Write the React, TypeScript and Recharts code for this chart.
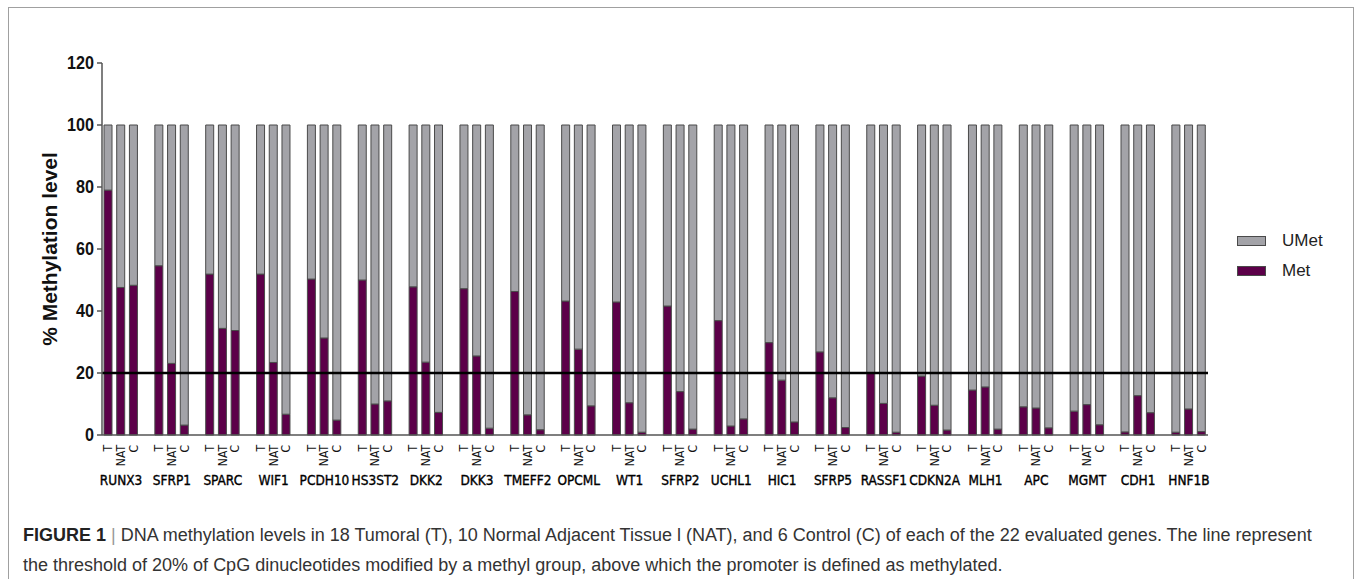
import React from 'react';
import { BarChart, Bar, XAxis, YAxis, ReferenceLine } from 'recharts';

const genes = ['RUNX3', 'SFRP1', 'SPARC', 'WIF1', 'PCDH10', 'HS3ST2', 'DKK2', 'DKK3', 'TMEFF2', 'OPCML', 'WT1', 'SFRP2', 'UCHL1', 'HIC1', 'SFRP5', 'RASSF1', 'CDKN2A', 'MLH1', 'APC', 'MGMT', 'CDH1', 'HNF1B'];
const sampleLabels = ['T', 'NAT', 'C'];
const metTumoral = [79.0, 54.6, 51.9, 51.9, 50.3, 50.0, 47.8, 47.2, 46.3, 43.2, 42.9, 41.6, 36.9, 29.8, 26.8, 19.9, 19.0, 14.5, 9.1, 7.7, 1.0, 0.9];
const metNAT = [47.6, 23.1, 34.4, 23.4, 31.3, 10.0, 23.5, 25.5, 6.5, 27.7, 10.4, 14.0, 2.9, 17.7, 12.0, 10.2, 9.6, 15.5, 8.7, 9.8, 12.7, 8.4];
const metControl = [48.3, 3.2, 33.7, 6.7, 4.8, 11.0, 7.3, 2.2, 1.7, 9.4, 0.9, 1.9, 5.2, 4.2, 2.4, 0.9, 1.6, 1.9, 2.3, 3.3, 7.2, 1.1];
const yTicks = [0, 20, 40, 60, 80, 100, 120];
const threshold = 20;
const legendItems = [{ name: 'UMet', key: 'umet' }, { name: 'Met', key: 'met' }];

const MET_COLOR = '#5c0049';
const UMET_COLOR = '#a3a3a8';
const STROKE = '#4a4a4a';

type Row = { sample: string; gene: string; met: number | null; umet: number | null };
const rows: Row[] = [];
genes.forEach((g, i) => {
  const vals = [metTumoral[i], metNAT[i], metControl[i]];
  vals.forEach((v, j) => {
    rows.push({ sample: sampleLabels[j], gene: j === 1 ? g : '', met: v, umet: +(100 - v).toFixed(2) });
  });
  if (i < genes.length - 1) rows.push({ sample: '', gene: '', met: null, umet: null });
});

const condensed = "'DejaVu Sans Condensed', 'DejaVu Sans', sans-serif";
const arial = "'Liberation Sans', Arial, sans-serif";

const XTick = (props: any) => {
  const { x, y, payload } = props;
  const row = rows[payload.index];
  if (!row || !row.sample) return null;
  const ty = y + 8;
  return (
    <g>
      <text x={x} y={ty} transform={`rotate(-90, ${x}, ${ty})`} textAnchor="end" dominantBaseline="central"
        fontSize={12} fontFamily={condensed} fill="#111">{row.sample}</text>
      {row.gene ? (
        <text x={x} y={y + 48} textAnchor="middle" fontSize={13.5} fontFamily={condensed} fill="#000"
          stroke="#000" strokeWidth={0.35}>{row.gene}</text>
      ) : null}
    </g>
  );
};

const YTick = (props: any) => {
  const { x, y, payload } = props;
  const s = String(payload.value);
  return (
    <text x={x} y={y} textAnchor="end" dominantBaseline="central" fontSize={18} fontWeight="bold"
      fontFamily={arial} fill="#111" textLength={s.length * 9} lengthAdjust="spacingAndGlyphs">{s}</text>
  );
};

export default function App() {
  return (
    <div style={{ position: 'absolute', left: 0, top: 0, width: 1357, height: 579, background: '#fff', overflow: 'hidden' }}>
      <div style={{ position: 'absolute', left: 8, top: 7, width: 1344, height: 620, border: '1.5px solid #a0a0a0' }} />
      <div style={{ position: 'absolute', left: 0, top: 0 }}>
        <BarChart width={1357} height={500} data={rows} margin={{ top: 63, right: 149, left: 42, bottom: 0 }} barSize={8} barGap={0}>
          <XAxis dataKey="sample" interval={0} height={65} tickLine={false} tickSize={0} tick={<XTick />}
            axisLine={{ stroke: '#555', strokeWidth: 1.5 }} />
          <YAxis domain={[0, 120]} ticks={yTicks} width={60} tickSize={5} tickMargin={3} interval={0}
            axisLine={{ stroke: '#555', strokeWidth: 1.5 }} tickLine={{ stroke: '#555', strokeWidth: 1.5 }}
            tick={<YTick />} />
          <Bar dataKey="met" name="Met" stackId="a" fill={MET_COLOR} stroke={STROKE} strokeWidth={1} isAnimationActive={false} />
          <Bar dataKey="umet" name="UMet" stackId="a" fill={UMET_COLOR} stroke={STROKE} strokeWidth={1} isAnimationActive={false} />
          <ReferenceLine y={threshold} stroke="#000" strokeWidth={2.5} />
        </BarChart>
      </div>
      <svg style={{ position: 'absolute', left: 0, top: 0 }} width={100} height={500}>
        <text x={49} y={249} transform="rotate(-90, 49, 249)" textAnchor="middle" dominantBaseline="central"
          fontSize={21} fontWeight="bold" fontFamily={arial} fill="#111">% Methylation level</text>
      </svg>
      <div style={{ position: 'absolute', left: 1237, top: 226, fontFamily: arial, fontSize: 17, color: '#222' }}>
        {legendItems.map((it) => (
          <div key={it.key} style={{ display: 'flex', alignItems: 'center', height: 30 }}>
            <div style={{ width: 27, height: 8, background: it.key === 'met' ? MET_COLOR : UMET_COLOR, border: `1px solid ${STROKE}`, marginRight: 16 }} />
            <span>{it.name}</span>
          </div>
        ))}
      </div>
      <div style={{ position: 'absolute', left: 23, top: 520, width: 1330, fontFamily: arial, fontSize: 18, lineHeight: '30px', color: '#333' }}>
        <div style={{ whiteSpace: 'nowrap' }}><b style={{ color: '#222' }}>FIGURE 1</b> <span style={{ color: '#999' }}>|</span> DNA methylation levels in 18 Tumoral (T), 10 Normal Adjacent Tissue l (NAT), and 6 Control (C) of each of the 22 evaluated genes. The line represent</div>
        <div style={{ whiteSpace: 'nowrap' }}>the threshold of 20% of CpG dinucleotides modified by a methyl group, above which the promoter is defined as methylated.</div>
      </div>
    </div>
  );
}
